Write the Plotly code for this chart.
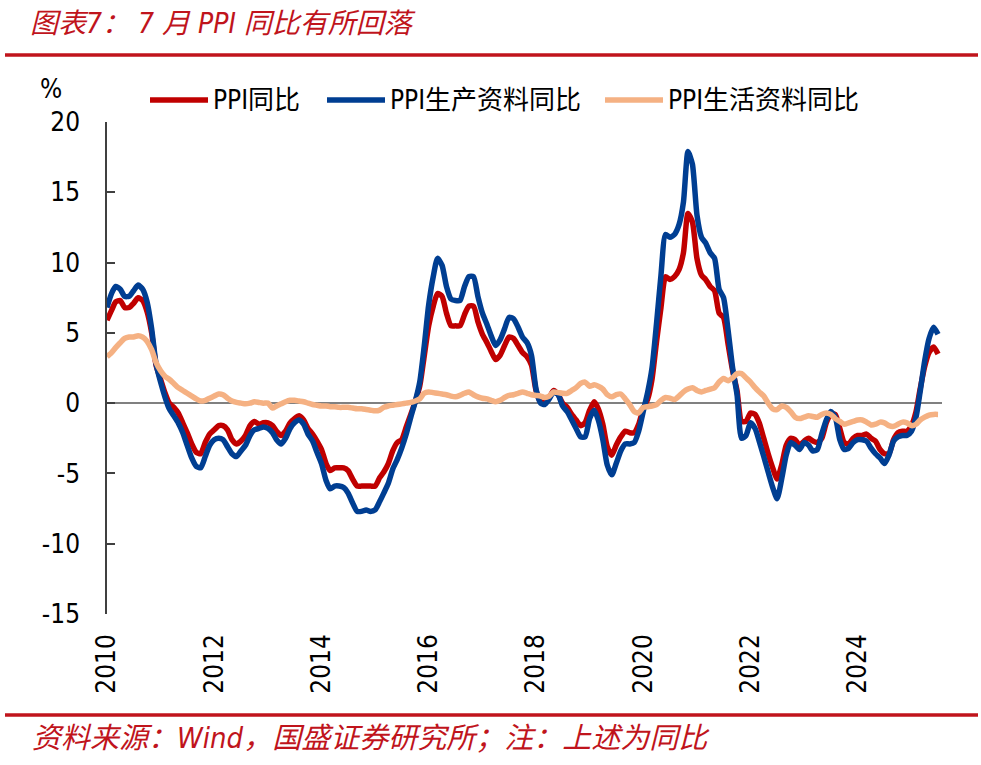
import pandas as pd
import plotly.graph_objects as go

# monthly values, Jan 2010 .. Jul 2025 (as plotted on the chart's axis)
ppi = [
    5.9,
    6.6, 7.2, 7.3, 6.8, 6.8, 7.1, 7.5, 7.3, 6.5, 5.0, 2.7, 1.7,
    0.7, 0.0, -0.3, -0.7, -1.4, -2.1, -2.9, -3.5, -3.6, -2.8, -2.2, -1.9,
    -1.6, -1.6, -1.9, -2.6, -2.9, -2.7, -2.3, -1.6, -1.3, -1.5, -1.4, -1.4,
    -1.6, -2.0, -2.3, -2.0, -1.4, -1.1, -0.9, -1.2, -1.8, -2.2, -2.7, -3.3,
    -4.3, -4.8, -4.6, -4.6, -4.6, -4.8, -5.4, -5.9, -5.9, -5.9, -5.9, -5.9,
    -5.3, -4.9, -4.3, -3.4, -2.8, -2.6, -1.7, -0.8, 0.1, 1.2, 3.3, 5.5,
    6.9, 7.8, 7.6, 6.4, 5.5, 5.5, 5.5, 6.3, 6.9, 6.9, 5.8, 4.9,
    4.3, 3.7, 3.1, 3.4, 4.1, 4.7, 4.6, 4.1, 3.6, 3.3, 2.7, 0.9,
    0.1, 0.1, 0.4, 0.9, 0.6, 0.0, -0.3, -0.8, -1.2, -1.6, -1.4, -0.5,
    0.1, -0.4, -1.5, -3.1, -3.7, -3.0, -2.4, -2.0, -2.1, -2.1, -1.5, -0.4,
    0.3, 1.7, 4.4, 6.8, 9.0, 8.8, 9.0, 9.5, 10.7, 13.5, 12.9, 10.3,
    9.1, 8.8, 8.3, 8.0, 6.4, 6.1, 4.2, 2.3, 0.9, -1.3, -1.3, -0.7,
    -0.8, -1.4, -2.5, -3.6, -4.6, -5.4, -4.4, -3.0, -2.5, -2.6, -3.0, -2.7,
    -2.5, -2.7, -2.8, -2.5, -1.4, -0.8, -0.8, -1.8, -2.8, -2.9, -2.5, -2.3,
    -2.3, -2.2, -2.5, -2.7, -3.3, -3.6, -3.6,
    -2.6, -2.1, -2.0, -2.0, -1.6, -0.6, 1.0, 2.6, 3.6, 4.0, 3.5,
]

ppi_prod = [
    6.8,
    7.8, 8.3, 8.1, 7.6, 7.6, 8.0, 8.4, 8.1, 7.2, 5.3, 2.8, 1.5,
    0.4, -0.4, -0.9, -1.4, -2.1, -3.0, -3.9, -4.5, -4.6, -3.8, -3.0, -2.6,
    -2.5, -2.6, -3.1, -3.6, -3.8, -3.4, -3.0, -2.3, -1.9, -1.8, -1.7, -1.8,
    -2.1, -2.6, -2.9, -2.5, -1.8, -1.4, -1.2, -1.5, -2.2, -2.7, -3.5, -4.3,
    -5.5, -6.1, -5.9, -5.9, -6.0, -6.4, -7.1, -7.7, -7.7, -7.6, -7.7, -7.6,
    -7.0, -6.4, -5.7, -4.7, -4.0, -3.2, -2.2, -1.0, 0.1, 1.5, 4.0, 7.0,
    9.0, 10.3, 9.8, 8.3, 7.4, 7.3, 7.3, 8.3, 9.0, 9.0, 7.6, 6.4,
    5.6, 4.8, 4.1, 4.5, 5.3, 6.1, 6.0, 5.4, 4.7, 4.3, 3.4, 1.0,
    0.0, -0.1, 0.3, 0.8, 0.6, -0.2, -0.6, -1.2, -1.8, -2.4, -2.4, -1.1,
    -0.5, -1.2, -2.6, -4.4, -5.1, -4.3, -3.4, -2.9, -2.9, -2.8, -2.0, -0.6,
    0.8, 2.5, 5.7, 9.1, 12.0, 11.8, 12.0, 12.7, 14.3, 17.9, 17.0, 13.4,
    11.8, 11.4, 10.7, 10.3, 8.1, 7.5, 5.2, 2.5, 0.6, -2.5, -2.3, -1.4,
    -1.8, -2.7, -3.8, -4.9, -6.0, -6.8, -5.4, -3.7, -2.8, -3.0, -3.3, -2.8,
    -3.0, -3.4, -3.3, -2.2, -1.2, -0.6, -1.0, -2.6, -3.3, -3.2, -2.8, -2.6,
    -2.6, -2.7, -3.2, -3.6, -3.9, -4.3, -3.7,
    -2.7, -2.4, -2.3, -2.3, -2.0, -1.0, 0.8, 3.0, 4.6, 5.4, 4.9,
]

ppi_life = [
    3.3,
    3.6, 3.95, 4.3, 4.6, 4.7, 4.7, 4.8, 4.7, 4.4, 3.8, 2.9, 2.3,
    1.9, 1.7, 1.4, 1.1, 0.9, 0.7, 0.5, 0.3, 0.15, 0.2, 0.35, 0.5,
    0.65, 0.6, 0.35, 0.15, 0.05, 0.0, -0.05, 0.0, 0.1, 0.05, 0.0, 0.0,
    -0.35, -0.2, -0.05, 0.1, 0.2, 0.2, 0.15, 0.1, 0.0, -0.1, -0.15, -0.2,
    -0.2, -0.25, -0.25, -0.3, -0.3, -0.3, -0.35, -0.4, -0.4, -0.45, -0.5, -0.55,
    -0.5, -0.3, -0.2, -0.15, -0.1, -0.05, 0.0, 0.05, 0.15, 0.3, 0.7, 0.8,
    0.75, 0.7, 0.65, 0.6, 0.5, 0.45, 0.55, 0.7, 0.8, 0.6, 0.45, 0.35,
    0.3, 0.2, 0.1, 0.2, 0.4, 0.55, 0.6, 0.7, 0.8, 0.7, 0.6, 0.55,
    0.5, 0.4, 0.5, 0.8, 0.75, 0.7, 0.7, 0.9, 1.1, 1.4, 1.5, 1.2,
    1.3, 1.2, 1.0, 0.6, 0.45, 0.6, 0.65, 0.3, -0.1, -0.6, -0.7, -0.3,
    -0.25, -0.2, -0.1, 0.2, 0.4, 0.35, 0.25, 0.5, 0.8, 1.0, 1.1, 0.9,
    0.8, 0.9, 1.0, 1.1, 1.5, 1.75, 1.6, 1.8, 2.1, 2.1, 1.8, 1.5,
    1.1, 0.8, 0.5, 0.0, -0.4, -0.45, -0.2, -0.3, -0.6, -1.0, -1.1, -1.0,
    -0.9, -0.95, -1.0, -0.8, -0.7, -0.8, -1.1, -1.3, -1.5, -1.4, -1.3, -1.2,
    -1.2, -1.35, -1.55, -1.5, -1.35, -1.4, -1.6,
    -1.65, -1.5, -1.35, -1.4, -1.6, -1.5, -1.2, -1.0, -0.85, -0.8, -0.8,
]

months = pd.date_range("2010-01-01", periods=len(ppi), freq="MS")
tick_years = ["2010", "2012", "2014", "2016", "2018", "2020", "2022", "2024"]
y_ticks = [-15, -10, -5, 0, 5, 10, 15, 20]
y_labels = ["-15", "-10", "-5", "0", "5", "10", "15", "20"]

series_names = ["PPI同比", "PPI生产资料同比", "PPI生活资料同比"]
series_colors = ["#C00000", "#003E92", "#F5B183"]

W, H = 981, 765
L, R, T, B = 107, 39, 122, 151
PW, PH = W - L - R, H - T - B

RED = "#C0141C"
TICK_FONT = "DejaVu Sans Condensed, DejaVu Sans, Liberation Sans"
CJK_FONT = "DejaVu Sans Condensed, DejaVu Sans, Noto Sans CJK SC"


def px(x):
    return (x - L) / PW


def py(y):
    return (H - B - y) / PH


fig = go.Figure()

for name, values, color in zip(series_names, [ppi, ppi_prod, ppi_life], series_colors):
    fig.add_trace(go.Scatter(
        x=months, y=values, name=name, mode="lines",
        line=dict(color=color, width=5.5, shape="spline", smoothing=0.6),
    ))

# title and source text with red rules
fig.add_annotation(
    x=px(28), y=py(23), xref="paper", yref="paper", xanchor="left", yanchor="middle",
    text="图表7： 7 月 PPI 同比有所回落", showarrow=False,
    font=dict(family=CJK_FONT, size=28, color=RED, style="italic"),
)
fig.add_annotation(
    x=px(30), y=py(738), xref="paper", yref="paper", xanchor="left", yanchor="middle",
    text="资料来源：Wind，国盛证券研究所；注：上述为同比", showarrow=False,
    font=dict(family=CJK_FONT, size=29, color=RED, style="italic"),
)
for y in (55, 715):
    fig.add_shape(type="line", xref="paper", yref="paper",
                  x0=px(5), x1=px(978), y0=py(y), y1=py(y),
                  line=dict(color=RED, width=3.5))

# "%" unit label
fig.add_annotation(
    x=px(51), y=py(89), xref="paper", yref="paper", showarrow=False,
    xanchor="center", yanchor="middle",
    text="%", font=dict(family=TICK_FONT, size=26, color="black"),
)

# legend drawn by hand so the line keys are as long as in the reference
legend_x = [150, 327, 605]
for lx, name, color in zip(legend_x, series_names, series_colors):
    fig.add_shape(type="line", xref="paper", yref="paper",
                  x0=px(lx), x1=px(lx + 58), y0=py(100), y1=py(100),
                  line=dict(color=color, width=5.5))
    fig.add_annotation(
        x=px(lx + 61), y=py(100), xref="paper", yref="paper",
        xanchor="left", yanchor="middle", showarrow=False, text=name,
        font=dict(family=CJK_FONT, size=26, color="black"),
    )

fig.update_xaxes(
    range=["2010-01-01", "2025-07-28"],
    tickvals=[f"{y}-01-01" for y in tick_years], ticktext=tick_years,
    tickangle=-90, tickfont=dict(family=TICK_FONT, size=26, color="black"),
    showgrid=False, showline=False, zeroline=False, ticks="",
    ticklabelstandoff=14, automargin=False,
)
fig.update_yaxes(
    range=[-15, 20], tickvals=y_ticks, ticktext=y_labels,
    tickfont=dict(family=TICK_FONT, size=26, color="black"),
    showgrid=False, showline=True, linecolor="#404040", linewidth=1.5,
    ticks="inside", ticklen=8, tickcolor="#404040", tickwidth=1.5,
    zeroline=True, zerolinecolor="#808080", zerolinewidth=1.5,
    ticklabelstandoff=20, automargin=False,
)

fig.update_layout(
    width=W, height=H, margin=dict(l=L, r=R, t=T, b=B),
    plot_bgcolor="white", paper_bgcolor="white", showlegend=False,
)

# the page's default body margin would shift the figure by 8px
fig.write_html("out.html", config={"displayModeBar": False},
               post_script="document.body.style.margin='0';")
